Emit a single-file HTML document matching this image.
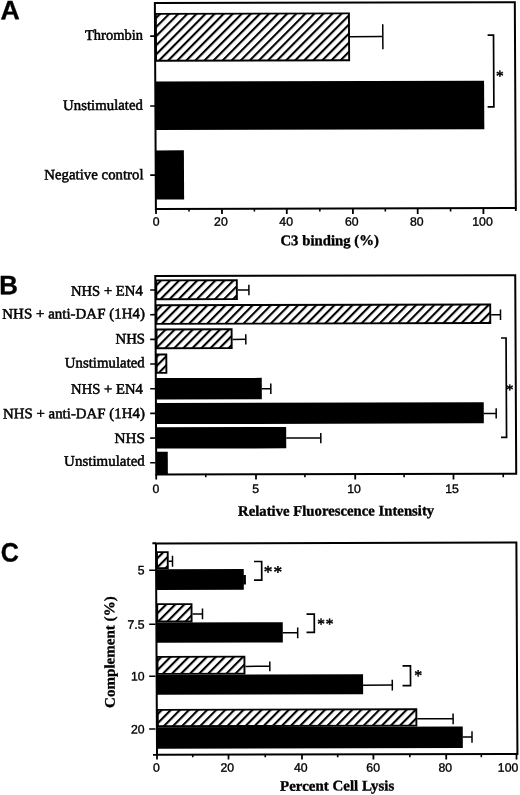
<!DOCTYPE html>
<html><head><meta charset="utf-8"><title>Figure</title>
<style>html,body{margin:0;padding:0;background:#fff;overflow:hidden}svg{display:block}</style>
</head><body>
<svg width="520" height="795" viewBox="0 0 520 795">
<defs>
<pattern id="h0" patternUnits="userSpaceOnUse" width="6.4218" height="6.4218" patternTransform="rotate(45) translate(1.387 0)"><rect width="6.4218" height="6.4218" fill="#fff"/><rect width="2.1" height="6.4218" fill="#000"/></pattern>
<pattern id="h1" patternUnits="userSpaceOnUse" width="6.4218" height="6.4218" patternTransform="rotate(45) translate(3.332 0)"><rect width="6.4218" height="6.4218" fill="#fff"/><rect width="2.1" height="6.4218" fill="#000"/></pattern>
<pattern id="h2" patternUnits="userSpaceOnUse" width="6.4218" height="6.4218" patternTransform="rotate(45) translate(2.279 0)"><rect width="6.4218" height="6.4218" fill="#fff"/><rect width="2.1" height="6.4218" fill="#000"/></pattern>
<pattern id="h3" patternUnits="userSpaceOnUse" width="6.4218" height="6.4218" patternTransform="rotate(45) translate(2.572 0)"><rect width="6.4218" height="6.4218" fill="#fff"/><rect width="2.1" height="6.4218" fill="#000"/></pattern>
<pattern id="h4" patternUnits="userSpaceOnUse" width="6.4218" height="6.4218" patternTransform="rotate(45) translate(2.559 0)"><rect width="6.4218" height="6.4218" fill="#fff"/><rect width="2.1" height="6.4218" fill="#000"/></pattern>
<pattern id="h5" patternUnits="userSpaceOnUse" width="6.4218" height="6.4218" patternTransform="rotate(45) translate(3.506 0)"><rect width="6.4218" height="6.4218" fill="#fff"/><rect width="2.1" height="6.4218" fill="#000"/></pattern>
<pattern id="h6" patternUnits="userSpaceOnUse" width="6.4218" height="6.4218" patternTransform="rotate(45) translate(3.773 0)"><rect width="6.4218" height="6.4218" fill="#fff"/><rect width="2.1" height="6.4218" fill="#000"/></pattern>
<pattern id="h7" patternUnits="userSpaceOnUse" width="6.4218" height="6.4218" patternTransform="rotate(45) translate(5.192 0)"><rect width="6.4218" height="6.4218" fill="#fff"/><rect width="2.1" height="6.4218" fill="#000"/></pattern>
<pattern id="h8" patternUnits="userSpaceOnUse" width="6.4218" height="6.4218" patternTransform="rotate(45) translate(4.235 0)"><rect width="6.4218" height="6.4218" fill="#fff"/><rect width="2.1" height="6.4218" fill="#000"/></pattern>
</defs>
<rect width="520" height="795" fill="#fff"/>
<g transform="matrix(1 -0.0024 0.005 1 -2.0000 0.3744)">
<text x="2.29" y="18.83" style="font-family:'Liberation Sans',sans-serif;font-size:26.5px;font-weight:bold" stroke="#000" stroke-width="0.3" textLength="19.29" lengthAdjust="spacingAndGlyphs">A</text>
<rect x="157.80" y="13.87" width="193.06" height="46.90" fill="url(#h0)" stroke="#000" stroke-width="1.9"/>
<line x1="351.82" y1="37.10" x2="384.62" y2="37.10" stroke="#000" stroke-width="1.5"/>
<line x1="384.62" y1="24.84" x2="384.62" y2="49.74" stroke="#000" stroke-width="1.5"/>
<rect x="156.85" y="81.52" width="328.82" height="48.50" fill="#000"/>
<rect x="156.85" y="150.42" width="28.28" height="49.10" fill="#000"/>
<rect x="156.85" y="3.00" width="359.95" height="205.90" fill="none" stroke="#000" stroke-width="2.0"/>
<line x1="156.94" y1="208.30" x2="156.94" y2="214.00" stroke="#000" stroke-width="1.8"/>
<text x="153.61" y="225.79" style="font-family:'Liberation Sans',sans-serif;font-size:12.3px;font-weight:normal" stroke="#000" stroke-width="0.35">0</text>
<line x1="189.95" y1="208.38" x2="189.95" y2="211.68" stroke="#000" stroke-width="1.6"/>
<line x1="222.94" y1="208.46" x2="222.94" y2="214.16" stroke="#000" stroke-width="1.8"/>
<text x="214.93" y="225.94" style="font-family:'Liberation Sans',sans-serif;font-size:12.3px;font-weight:normal" stroke="#000" stroke-width="0.35">20</text>
<line x1="255.35" y1="208.54" x2="255.35" y2="211.84" stroke="#000" stroke-width="1.6"/>
<line x1="287.74" y1="208.61" x2="287.74" y2="214.31" stroke="#000" stroke-width="1.8"/>
<text x="280.24" y="226.10" style="font-family:'Liberation Sans',sans-serif;font-size:12.3px;font-weight:normal" stroke="#000" stroke-width="0.35">40</text>
<line x1="320.80" y1="208.69" x2="320.80" y2="211.99" stroke="#000" stroke-width="1.6"/>
<line x1="353.84" y1="208.77" x2="353.84" y2="214.47" stroke="#000" stroke-width="1.8"/>
<text x="345.88" y="226.25" style="font-family:'Liberation Sans',sans-serif;font-size:12.3px;font-weight:normal" stroke="#000" stroke-width="0.35">60</text>
<line x1="386.25" y1="208.85" x2="386.25" y2="212.15" stroke="#000" stroke-width="1.6"/>
<line x1="418.64" y1="208.93" x2="418.64" y2="214.63" stroke="#000" stroke-width="1.8"/>
<text x="410.76" y="226.41" style="font-family:'Liberation Sans',sans-serif;font-size:12.3px;font-weight:normal" stroke="#000" stroke-width="0.35">80</text>
<line x1="451.50" y1="209.01" x2="451.50" y2="212.31" stroke="#000" stroke-width="1.6"/>
<line x1="484.34" y1="209.09" x2="484.34" y2="214.79" stroke="#000" stroke-width="1.8"/>
<text x="473.12" y="226.56" style="font-family:'Liberation Sans',sans-serif;font-size:12.3px;font-weight:normal" stroke="#000" stroke-width="0.35">100</text>
<line x1="516.75" y1="208.86" x2="516.75" y2="211.76" stroke="#000" stroke-width="1.8"/>
<line x1="152.02" y1="36.09" x2="157.32" y2="36.09" stroke="#000" stroke-width="1.6"/>
<text x="86.76" y="39.73" style="font-family:'Liberation Serif',serif;font-size:14.7px;font-weight:normal" stroke="#000" stroke-width="0.5" textLength="58.00" lengthAdjust="spacingAndGlyphs">Thrombin</text>
<line x1="151.67" y1="105.99" x2="156.97" y2="105.99" stroke="#000" stroke-width="1.6"/>
<text x="64.50" y="109.78" style="font-family:'Liberation Serif',serif;font-size:14.7px;font-weight:normal" stroke="#000" stroke-width="0.5" textLength="79.92" lengthAdjust="spacingAndGlyphs">Unstimulated</text>
<line x1="151.32" y1="175.09" x2="156.62" y2="175.09" stroke="#000" stroke-width="1.6"/>
<text x="45.41" y="179.13" style="font-family:'Liberation Serif',serif;font-size:14.7px;font-weight:normal" stroke="#000" stroke-width="0.5" textLength="99.29" lengthAdjust="spacingAndGlyphs">Negative control</text>
<path d="M489.42 36.01 H495.34 V107.61 H489.07" fill="none" stroke="#000" stroke-width="1.7" stroke-linecap="butt" stroke-linejoin="miter"/>
<text x="497.52" y="81.94" style="font-family:'Liberation Serif',serif;font-size:15.5px;font-weight:normal" stroke="#000" stroke-width="0.5">*</text>
<text x="281.21" y="245.60" style="font-family:'Liberation Serif',serif;font-size:14.7px;font-weight:bold" stroke="#000" stroke-width="0.35" textLength="98.53" lengthAdjust="spacingAndGlyphs">C3 binding (%)</text>
<text x="-0.20" y="293.82" style="font-family:'Liberation Sans',sans-serif;font-size:26.5px;font-weight:bold" stroke="#000" stroke-width="0.3" textLength="18.71" lengthAdjust="spacingAndGlyphs">B</text>
<rect x="156.85" y="280.37" width="80.55" height="18.90" fill="url(#h1)" stroke="#000" stroke-width="1.9"/>
<line x1="238.35" y1="290.21" x2="249.45" y2="290.21" stroke="#000" stroke-width="1.5"/>
<line x1="249.45" y1="285.02" x2="249.45" y2="295.42" stroke="#000" stroke-width="1.5"/>
<rect x="156.85" y="305.27" width="333.83" height="18.60" fill="url(#h2)" stroke="#000" stroke-width="1.9"/>
<line x1="491.63" y1="315.50" x2="500.93" y2="315.50" stroke="#000" stroke-width="1.5"/>
<line x1="500.93" y1="310.31" x2="500.93" y2="320.71" stroke="#000" stroke-width="1.5"/>
<rect x="156.85" y="329.47" width="75.11" height="18.80" fill="url(#h3)" stroke="#000" stroke-width="1.9"/>
<line x1="232.90" y1="339.56" x2="246.10" y2="339.56" stroke="#000" stroke-width="1.5"/>
<line x1="246.10" y1="334.38" x2="246.10" y2="344.78" stroke="#000" stroke-width="1.5"/>
<rect x="156.85" y="354.57" width="9.68" height="18.30" fill="url(#h4)" stroke="#000" stroke-width="1.9"/>
<rect x="155.90" y="378.12" width="105.96" height="21.40" fill="#000"/>
<line x1="261.86" y1="388.98" x2="270.86" y2="388.98" stroke="#000" stroke-width="1.5"/>
<line x1="270.86" y1="383.80" x2="270.86" y2="394.20" stroke="#000" stroke-width="1.5"/>
<rect x="155.90" y="402.92" width="327.83" height="21.20" fill="#000"/>
<line x1="483.73" y1="414.20" x2="496.13" y2="414.20" stroke="#000" stroke-width="1.5"/>
<line x1="496.13" y1="409.02" x2="496.13" y2="419.42" stroke="#000" stroke-width="1.5"/>
<rect x="155.90" y="427.22" width="130.11" height="21.40" fill="#000"/>
<line x1="286.01" y1="438.43" x2="320.61" y2="438.43" stroke="#000" stroke-width="1.5"/>
<line x1="320.61" y1="433.28" x2="320.61" y2="443.68" stroke="#000" stroke-width="1.5"/>
<rect x="155.90" y="451.72" width="11.59" height="22.30" fill="#000"/>
<rect x="155.90" y="276.10" width="359.95" height="198.40" fill="none" stroke="#000" stroke-width="2.0"/>
<line x1="150.75" y1="289.99" x2="156.05" y2="289.99" stroke="#000" stroke-width="1.6"/>
<text x="71.43" y="295.50" style="font-family:'Liberation Serif',serif;font-size:14.7px;font-weight:normal" stroke="#000" stroke-width="0.5" textLength="71.82" lengthAdjust="spacingAndGlyphs">NHS + EN4</text>
<line x1="150.63" y1="314.67" x2="155.93" y2="314.67" stroke="#000" stroke-width="1.6"/>
<text x="2.71" y="318.28" style="font-family:'Liberation Serif',serif;font-size:14.7px;font-weight:normal" stroke="#000" stroke-width="0.5" textLength="142.66" lengthAdjust="spacingAndGlyphs">NHS + anti-DAF (1H4)</text>
<line x1="150.50" y1="339.35" x2="155.80" y2="339.35" stroke="#000" stroke-width="1.6"/>
<text x="115.74" y="343.40" style="font-family:'Liberation Serif',serif;font-size:14.7px;font-weight:normal" stroke="#000" stroke-width="0.5" textLength="29.59" lengthAdjust="spacingAndGlyphs">NHS</text>
<line x1="150.38" y1="364.03" x2="155.68" y2="364.03" stroke="#000" stroke-width="1.6"/>
<text x="65.02" y="367.33" style="font-family:'Liberation Serif',serif;font-size:14.7px;font-weight:normal" stroke="#000" stroke-width="0.5" textLength="79.92" lengthAdjust="spacingAndGlyphs">Unstimulated</text>
<line x1="150.26" y1="388.71" x2="155.56" y2="388.71" stroke="#000" stroke-width="1.6"/>
<text x="71.14" y="393.60" style="font-family:'Liberation Serif',serif;font-size:14.7px;font-weight:normal" stroke="#000" stroke-width="0.5" textLength="71.82" lengthAdjust="spacingAndGlyphs">NHS + EN4</text>
<line x1="150.13" y1="413.39" x2="155.43" y2="413.39" stroke="#000" stroke-width="1.6"/>
<text x="2.81" y="418.03" style="font-family:'Liberation Serif',serif;font-size:14.7px;font-weight:normal" stroke="#000" stroke-width="0.5" textLength="142.06" lengthAdjust="spacingAndGlyphs">NHS + anti-DAF (1H4)</text>
<line x1="150.01" y1="438.07" x2="155.31" y2="438.07" stroke="#000" stroke-width="1.6"/>
<text x="114.28" y="442.90" style="font-family:'Liberation Serif',serif;font-size:14.7px;font-weight:normal" stroke="#000" stroke-width="0.5" textLength="30.58" lengthAdjust="spacingAndGlyphs">NHS</text>
<line x1="149.89" y1="462.75" x2="155.19" y2="462.75" stroke="#000" stroke-width="1.6"/>
<text x="63.77" y="465.58" style="font-family:'Liberation Serif',serif;font-size:14.7px;font-weight:normal" stroke="#000" stroke-width="0.5" textLength="80.67" lengthAdjust="spacingAndGlyphs">Unstimulated</text>
<line x1="155.82" y1="474.00" x2="155.82" y2="479.60" stroke="#000" stroke-width="1.8"/>
<text x="152.07" y="493.09" style="font-family:'Liberation Sans',sans-serif;font-size:12.3px;font-weight:normal" stroke="#000" stroke-width="0.35">0</text>
<line x1="205.40" y1="474.12" x2="205.40" y2="477.32" stroke="#000" stroke-width="1.6"/>
<line x1="255.62" y1="474.24" x2="255.62" y2="479.84" stroke="#000" stroke-width="1.8"/>
<text x="251.77" y="493.33" style="font-family:'Liberation Sans',sans-serif;font-size:12.3px;font-weight:normal" stroke="#000" stroke-width="0.35">5</text>
<line x1="304.55" y1="474.36" x2="304.55" y2="477.56" stroke="#000" stroke-width="1.6"/>
<line x1="354.82" y1="474.48" x2="354.82" y2="480.08" stroke="#000" stroke-width="1.8"/>
<text x="346.74" y="493.56" style="font-family:'Liberation Sans',sans-serif;font-size:12.3px;font-weight:normal" stroke="#000" stroke-width="0.35">10</text>
<line x1="403.70" y1="474.60" x2="403.70" y2="477.80" stroke="#000" stroke-width="1.6"/>
<line x1="453.12" y1="474.71" x2="453.12" y2="480.31" stroke="#000" stroke-width="1.8"/>
<text x="444.79" y="493.79" style="font-family:'Liberation Sans',sans-serif;font-size:12.3px;font-weight:normal" stroke="#000" stroke-width="0.35">15</text>
<line x1="502.85" y1="474.83" x2="502.85" y2="478.03" stroke="#000" stroke-width="1.6"/>
<path d="M501.31 338.84 H506.36 V438.24 H500.81" fill="none" stroke="#000" stroke-width="1.7" stroke-linecap="butt" stroke-linejoin="miter"/>
<text x="505.98" y="395.23" style="font-family:'Liberation Serif',serif;font-size:15px;font-weight:normal" stroke="#000" stroke-width="0.5">*</text>
<text x="237.47" y="516.00" style="font-family:'Liberation Serif',serif;font-size:14.7px;font-weight:bold" stroke="#000" stroke-width="0.35" textLength="196.15" lengthAdjust="spacingAndGlyphs">Relative Fluorescence Intensity</text>
<text x="0.03" y="561.23" style="font-family:'Liberation Sans',sans-serif;font-size:26.5px;font-weight:bold" stroke="#000" stroke-width="0.3" textLength="18.19" lengthAdjust="spacingAndGlyphs">C</text>
<rect x="156.20" y="552.17" width="10.75" height="16.10" fill="url(#h5)" stroke="#000" stroke-width="1.9"/>
<line x1="167.89" y1="561.29" x2="171.69" y2="561.29" stroke="#000" stroke-width="1.5"/>
<line x1="171.69" y1="555.84" x2="171.69" y2="566.74" stroke="#000" stroke-width="1.5"/>
<rect x="155.25" y="569.22" width="87.65" height="20.70" fill="#000"/>
<rect x="242.40" y="575.31" width="2.60" height="9.50" fill="#000"/>
<rect x="156.20" y="604.17" width="34.29" height="17.40" fill="url(#h6)" stroke="#000" stroke-width="1.9"/>
<line x1="191.43" y1="614.00" x2="201.43" y2="614.00" stroke="#000" stroke-width="1.5"/>
<line x1="201.43" y1="608.71" x2="201.43" y2="619.31" stroke="#000" stroke-width="1.5"/>
<rect x="155.25" y="622.52" width="126.39" height="20.20" fill="#000"/>
<line x1="281.64" y1="633.12" x2="296.54" y2="633.12" stroke="#000" stroke-width="1.5"/>
<line x1="296.54" y1="627.74" x2="296.54" y2="638.54" stroke="#000" stroke-width="1.5"/>
<rect x="156.20" y="656.87" width="86.92" height="17.00" fill="url(#h7)" stroke="#000" stroke-width="1.9"/>
<line x1="244.07" y1="666.59" x2="268.47" y2="666.59" stroke="#000" stroke-width="1.5"/>
<line x1="268.47" y1="661.77" x2="268.47" y2="671.47" stroke="#000" stroke-width="1.5"/>
<rect x="155.25" y="674.82" width="206.43" height="20.00" fill="#000"/>
<line x1="361.67" y1="685.63" x2="390.87" y2="685.63" stroke="#000" stroke-width="1.5"/>
<line x1="390.87" y1="680.37" x2="390.87" y2="690.97" stroke="#000" stroke-width="1.5"/>
<rect x="156.20" y="709.87" width="258.56" height="16.40" fill="url(#h8)" stroke="#000" stroke-width="1.9"/>
<line x1="415.71" y1="719.47" x2="451.51" y2="719.47" stroke="#000" stroke-width="1.5"/>
<line x1="451.51" y1="714.11" x2="451.51" y2="724.91" stroke="#000" stroke-width="1.5"/>
<rect x="155.25" y="727.22" width="305.86" height="21.50" fill="#000"/>
<line x1="461.12" y1="737.70" x2="470.32" y2="737.70" stroke="#000" stroke-width="1.5"/>
<line x1="470.32" y1="731.96" x2="470.32" y2="743.46" stroke="#000" stroke-width="1.5"/>
<rect x="155.25" y="543.40" width="360.40" height="211.40" fill="none" stroke="#000" stroke-width="2.0"/>
<line x1="151.68" y1="543.20" x2="155.28" y2="543.20" stroke="#000" stroke-width="1.9"/>
<line x1="151.23" y1="754.90" x2="155.23" y2="754.90" stroke="#000" stroke-width="1.9"/>
<line x1="148.35" y1="570.19" x2="154.65" y2="570.19" stroke="#000" stroke-width="1.6"/>
<text x="136.92" y="574.56" style="font-family:'Liberation Sans',sans-serif;font-size:12.3px;font-weight:normal" stroke="#000" stroke-width="0.35">5</text>
<line x1="148.08" y1="624.29" x2="154.38" y2="624.29" stroke="#000" stroke-width="1.6"/>
<text x="126.38" y="628.63" style="font-family:'Liberation Sans',sans-serif;font-size:12.3px;font-weight:normal" stroke="#000" stroke-width="0.35">7.5</text>
<line x1="147.82" y1="676.19" x2="154.12" y2="676.19" stroke="#000" stroke-width="1.6"/>
<text x="129.56" y="680.54" style="font-family:'Liberation Sans',sans-serif;font-size:12.3px;font-weight:normal" stroke="#000" stroke-width="0.35">10</text>
<line x1="147.55" y1="728.99" x2="153.85" y2="728.99" stroke="#000" stroke-width="1.6"/>
<text x="129.30" y="733.34" style="font-family:'Liberation Sans',sans-serif;font-size:12.3px;font-weight:normal" stroke="#000" stroke-width="0.35">20</text>
<line x1="155.22" y1="754.50" x2="155.22" y2="759.40" stroke="#000" stroke-width="1.8"/>
<text x="151.08" y="771.79" style="font-family:'Liberation Sans',sans-serif;font-size:12.3px;font-weight:normal" stroke="#000" stroke-width="0.35">0</text>
<line x1="190.97" y1="754.59" x2="190.97" y2="757.29" stroke="#000" stroke-width="1.6"/>
<line x1="226.72" y1="754.67" x2="226.72" y2="759.57" stroke="#000" stroke-width="1.8"/>
<text x="218.55" y="771.95" style="font-family:'Liberation Sans',sans-serif;font-size:12.3px;font-weight:normal" stroke="#000" stroke-width="0.35">20</text>
<line x1="263.47" y1="754.76" x2="263.47" y2="757.46" stroke="#000" stroke-width="1.6"/>
<line x1="300.22" y1="754.85" x2="300.22" y2="759.75" stroke="#000" stroke-width="1.8"/>
<text x="292.16" y="772.13" style="font-family:'Liberation Sans',sans-serif;font-size:12.3px;font-weight:normal" stroke="#000" stroke-width="0.35">40</text>
<line x1="335.92" y1="754.94" x2="335.92" y2="757.64" stroke="#000" stroke-width="1.6"/>
<line x1="371.62" y1="755.02" x2="371.62" y2="759.92" stroke="#000" stroke-width="1.8"/>
<text x="364.45" y="772.30" style="font-family:'Liberation Sans',sans-serif;font-size:12.3px;font-weight:normal" stroke="#000" stroke-width="0.35">60</text>
<line x1="408.02" y1="755.11" x2="408.02" y2="757.81" stroke="#000" stroke-width="1.6"/>
<line x1="444.42" y1="755.20" x2="444.42" y2="760.10" stroke="#000" stroke-width="1.8"/>
<text x="436.58" y="772.48" style="font-family:'Liberation Sans',sans-serif;font-size:12.3px;font-weight:normal" stroke="#000" stroke-width="0.35">80</text>
<line x1="479.57" y1="755.28" x2="479.57" y2="757.98" stroke="#000" stroke-width="1.6"/>
<line x1="514.72" y1="755.37" x2="514.72" y2="760.27" stroke="#000" stroke-width="1.8"/>
<text x="495.98" y="772.62" style="font-family:'Liberation Sans',sans-serif;font-size:12.3px;font-weight:normal" stroke="#000" stroke-width="0.35">100</text>
<path d="M253.19 561.75 H260.85 V580.45 H253.10" fill="none" stroke="#000" stroke-width="1.7" stroke-linecap="butt" stroke-linejoin="miter"/>
<text x="262.99" y="577.83" style="font-family:'Liberation Serif',serif;font-size:17.5px;font-weight:normal" stroke="#000" stroke-width="0.5">*</text>
<text x="272.74" y="578.05" style="font-family:'Liberation Serif',serif;font-size:17.5px;font-weight:normal" stroke="#000" stroke-width="0.5">*</text>
<path d="M305.43 614.58 H313.18 V632.68 H305.34" fill="none" stroke="#000" stroke-width="1.7" stroke-linecap="butt" stroke-linejoin="miter"/>
<text x="316.23" y="629.46" style="font-family:'Liberation Serif',serif;font-size:15.5px;font-weight:normal" stroke="#000" stroke-width="0.5">*</text>
<text x="324.73" y="629.48" style="font-family:'Liberation Serif',serif;font-size:15.5px;font-weight:normal" stroke="#000" stroke-width="0.5">*</text>
<path d="M401.17 666.41 H409.12 V686.21 H401.07" fill="none" stroke="#000" stroke-width="1.7" stroke-linecap="butt" stroke-linejoin="miter"/>
<text x="412.90" y="681.38" style="font-family:'Liberation Serif',serif;font-size:16px;font-weight:normal" stroke="#000" stroke-width="0.5">*</text>
<text x="113.26" y="707.80" transform="rotate(-90 113.26 707.80)" style="font-family:'Liberation Serif',serif;font-size:14.7px;font-weight:bold" stroke="#000" stroke-width="0.3" textLength="111.63" lengthAdjust="spacingAndGlyphs">Complement (%)</text>
<text x="278.10" y="791.00" style="font-family:'Liberation Serif',serif;font-size:14.7px;font-weight:bold" stroke="#000" stroke-width="0.35" textLength="114.30" lengthAdjust="spacingAndGlyphs">Percent Cell Lysis</text>
</g>
</svg>
</body></html>
